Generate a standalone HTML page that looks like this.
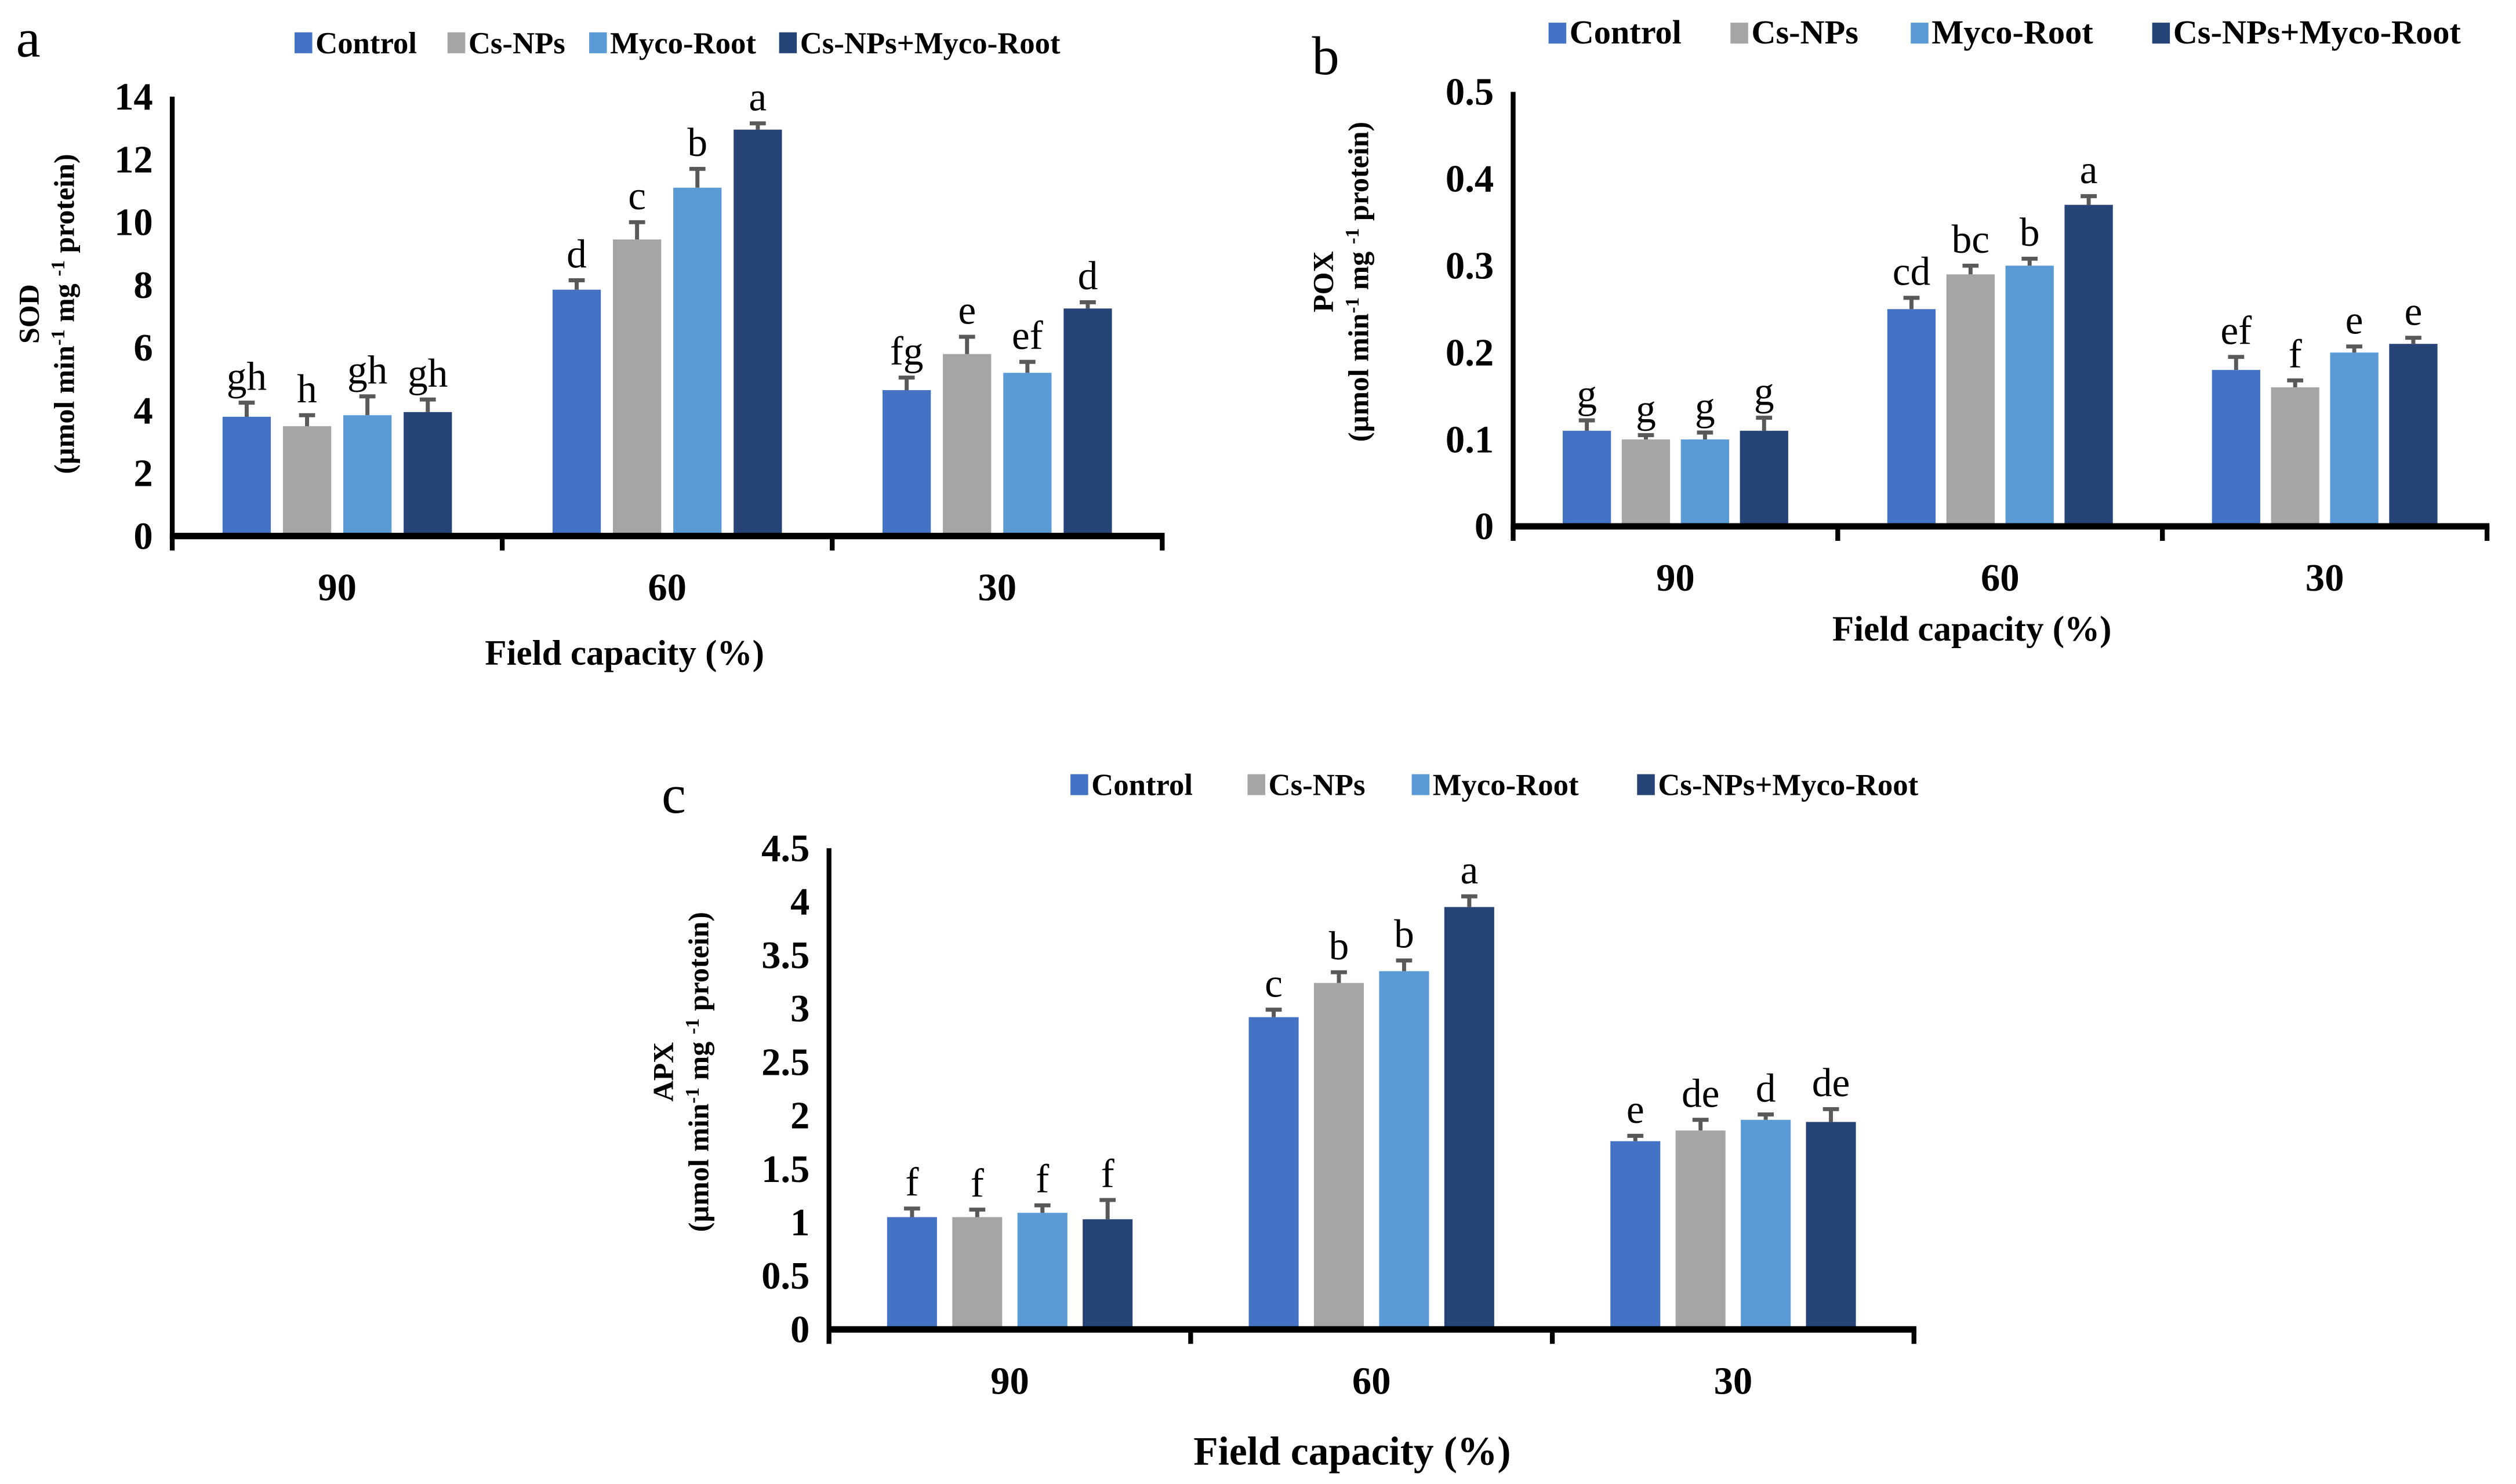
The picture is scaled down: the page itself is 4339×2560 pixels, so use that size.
<!DOCTYPE html>
<html><head><meta charset="utf-8"><style>
html,body{margin:0;padding:0;background:#fff;}
svg{display:block;}
text{font-family:"Liberation Serif",serif;}
</style></head>
<body>
<svg id="fig" width="4339" height="2560" viewBox="0 0 1563 922" xmlns="http://www.w3.org/2000/svg">
<rect width="1563" height="922" fill="#fff"/>
</svg>
<script>
const categories = ["90","60","30"];
const seriesNames = ["Control","Cs-NPs","Myco-Root","Cs-NPs+Myco-Root"];
const colors = ["#4472c4","#a5a5a5","#5b9bd5","#264478"];

const sodValues = [[3.8,7.85,4.65],[3.5,9.45,5.8],[3.85,11.1,5.2],[3.95,12.95,7.25]];
const sodErrors = [[0.45,0.3,0.4],[0.35,0.55,0.55],[0.6,0.6,0.35],[0.4,0.2,0.2]];
const sodLetters = [["gh","d","fg"],["h","c","e"],["gh","b","ef"],["gh","a","d"]];
const sodTicks = ["0","2","4","6","8","10","12","14"];

const poxValues = [[0.11,0.25,0.18],[0.10,0.29,0.16],[0.10,0.30,0.20],[0.11,0.37,0.21]];
const poxErrors = [[0.012,0.013,0.015],[0.005,0.01,0.008],[0.008,0.008,0.007],[0.015,0.01,0.007]];
const poxLetters = [["g","cd","ef"],["g","bc","f"],["g","b","e"],["g","a","e"]];
const poxTicks = ["0","0.1","0.2","0.3","0.4","0.5"];

const apxValues = [[1.05,2.92,1.76],[1.05,3.24,1.86],[1.09,3.35,1.96],[1.03,3.95,1.94]];
const apxErrors = [[0.08,0.07,0.05],[0.07,0.1,0.1],[0.07,0.1,0.05],[0.18,0.1,0.12]];
const apxLetters = [["f","c","e"],["f","b","de"],["f","b","d"],["f","a","de"]];
const apxTicks = ["0","0.5","1","1.5","2","2.5","3","3.5","4","4.5"];

const NS="http://www.w3.org/2000/svg";
const svg=document.getElementById('fig');
function mk(tag,attrs,parent,txt){const e=document.createElementNS(NS,tag);for(const k in attrs)e.setAttribute(k,attrs[k]);if(txt!==undefined)e.textContent=txt;(parent||svg).appendChild(e);return e;}

function drawChart(cfg){
  const g=mk('g',{});
  
  
  const ymax=parseFloat(cfg.ticks[cfg.ticks.length-1]);
  const y=v=>cfg.y0-(v/ymax)*(cfg.y0-cfg.yTop);
  const groupW=(cfg.x1-cfg.x0)/categories.length;
  const barW=cfg.barW, pitch=cfg.pitch;
  const xBar=(ci,si)=>cfg.x0+groupW*(ci+0.5)+(si-1.5)*pitch-barW/2;
  cfg.ticks.forEach(t=>{
    const tl=mk('text',{x:cfg.x0-12,y:y(parseFloat(t))+8,'text-anchor':'end','font-size':24,'font-weight':'bold'},g,t);
    
    
  });
  for(let s=0;s<seriesNames.length;s++){
    for(let c=0;c<categories.length;c++){
      const v=cfg.values[s][c], e=cfg.errors[s][c];
      const bx=xBar(c,s);
      const r=mk('rect',{x:bx,y:y(v),width:barW,height:cfg.y0-y(v),fill:colors[s]},g);
      
      
      const cx=bx+barW/2;
      const eb=mk('path',{d:`M${cx} ${y(v)}V${y(v+e)}M${cx-5} ${y(v+e)}H${cx+5}`,stroke:'#595959','stroke-width':2.5,fill:'none'},g);
      
      
      const lt=mk('text',{x:cx,y:y(v+e)-8,'text-anchor':'middle','font-size':25},g,cfg.letters[s][c]);
      
      
    }
  }
  const ya=mk('line',{x1:cfg.x0,y1:cfg.yTop,x2:cfg.x0,y2:cfg.y0+2,stroke:'#000','stroke-width':3},g);
  
  
  const xa=mk('line',{x1:cfg.x0-1.5,y1:cfg.y0,x2:cfg.x1+1.5,y2:cfg.y0,stroke:'#000','stroke-width':4},g);
  
  
  for(let i=0;i<=categories.length;i++){
    const tx=cfg.x0+groupW*i;
    mk('line',{x1:tx,y1:cfg.y0,x2:tx,y2:cfg.y0+9,stroke:'#000','stroke-width':3},g);
  }
  categories.forEach((c,i)=>{
    const t=mk('text',{x:cfg.x0+groupW*(i+0.5),y:cfg.y0+40,'text-anchor':'middle','font-size':24,'font-weight':'bold'},g,c);
    
    
  });
  const xt=mk('text',{x:cfg.xTitleX,y:cfg.xTitleY,'text-anchor':'middle','font-size':cfg.xTitleSize,'font-weight':'bold'},g,'Field capacity (%)');
  
  
  const ytg=mk('text',{transform:`translate(${cfg.yTitleX},${cfg.yTitleY}) rotate(-90)`,'text-anchor':'middle','font-size':18,'font-weight':'bold'},g);
  
  
  mk('tspan',{x:0,y:0},ytg,cfg.name);
  mk('tspan',{x:0,dy:22},ytg,'(µmol min');
  mk('tspan',{'font-size':12,dy:-6},ytg,'-1');
  mk('tspan',{dy:6},ytg,' mg ');
  mk('tspan',{'font-size':12,dy:-6},ytg,'-1');
  mk('tspan',{dy:6},ytg,' protein)');
  const pl=mk('text',{x:cfg.panelX,y:cfg.panelY,'font-size':34},g,cfg.panel);
  
  
  const lg=mk('g',{},g);
  
  
  seriesNames.forEach((n,i)=>{
    const lx=cfg.legendX[i];
    const e=mk('g',{},lg);
    
    
    mk('rect',{x:lx,y:cfg.legendY-13,width:11,height:13,fill:colors[i]},e);
    mk('text',{x:lx+13,y:cfg.legendY,'font-size':cfg.legendSize,'font-weight':'bold'},e,n);
  });
}

drawChart({name:'SOD',panel:'a',panelX:10,panelY:35,values:sodValues,errors:sodErrors,letters:sodLetters,ticks:sodTicks,
  x0:107,x1:722,y0:333,yTop:60,barW:30,pitch:37.5,xTitleX:388,xTitleY:413,xTitleSize:22,yTitleX:24,yTitleY:195,
  legendX:[183,278,366,484],legendY:33,legendSize:19});
drawChart({name:'POX',panel:'b',panelX:815,panelY:46,values:poxValues,errors:poxErrors,letters:poxLetters,ticks:poxTicks,
  x0:940,x1:1545,y0:327,yTop:57,barW:30,pitch:36.7,xTitleX:1225,xTitleY:398,xTitleSize:22,yTitleX:828,yTitleY:175,
  legendX:[962,1075,1187,1337],legendY:27,legendSize:21});
drawChart({name:'APX',panel:'c',panelX:411,panelY:505,values:apxValues,errors:apxErrors,letters:apxLetters,ticks:apxTicks,
  x0:515,x1:1189,y0:826,yTop:527,barW:31,pitch:40.5,xTitleX:840,xTitleY:910,xTitleSize:25,yTitleX:418,yTitleY:666,
  legendX:[665,775,877,1017],legendY:494,legendSize:19});
</script>
</body></html>
